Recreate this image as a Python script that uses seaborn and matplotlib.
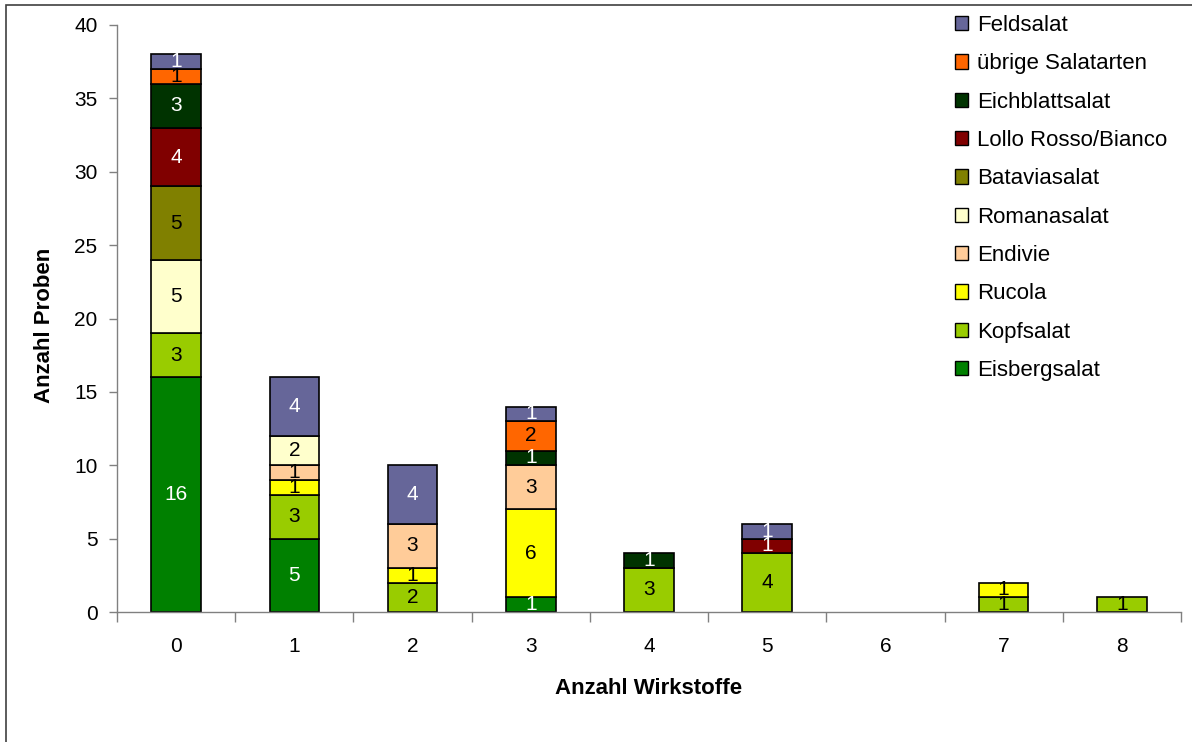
import pandas as pd
import matplotlib.pyplot as plt
from matplotlib.patches import Patch, Rectangle
from matplotlib.ticker import FixedLocator
import seaborn as sns

# Anzahl Wirkstoffe (x categories)
wirkstoffe = [0, 1, 2, 3, 4, 5, 6, 7, 8]

# counts per salad type, one value per x category (bottom to top in the stack)
eisbergsalat = [16, 5, 0, 1, 0, 0, 0, 0, 0]
kopfsalat = [3, 3, 2, 0, 3, 4, 0, 1, 1]
rucola = [0, 1, 1, 6, 0, 0, 0, 1, 0]
endivie = [0, 1, 3, 3, 0, 0, 0, 0, 0]
romanasalat = [5, 2, 0, 0, 0, 0, 0, 0, 0]
bataviasalat = [5, 0, 0, 0, 0, 0, 0, 0, 0]
lollo = [4, 0, 0, 0, 0, 1, 0, 0, 0]
eichblattsalat = [3, 0, 0, 1, 1, 0, 0, 0, 0]
uebrige = [1, 0, 0, 2, 0, 0, 0, 0, 0]
feldsalat = [1, 4, 4, 1, 0, 1, 0, 0, 0]

# legend order (top of stack first)
sorten = ['Feldsalat', 'übrige Salatarten', 'Eichblattsalat', 'Lollo Rosso/Bianco',
          'Bataviasalat', 'Romanasalat', 'Endivie', 'Rucola', 'Kopfsalat', 'Eisbergsalat']
werte = [feldsalat, uebrige, eichblattsalat, lollo, bataviasalat,
         romanasalat, endivie, rucola, kopfsalat, eisbergsalat]
farben = ['#666699', '#FF6600', '#003300', '#800000', '#808000',
          '#FFFFCC', '#FFCC99', '#FFFF00', '#99CC00', '#008000']
dunkel = {'Feldsalat', 'Eichblattsalat', 'Lollo Rosso/Bianco', 'Eisbergsalat'}

rows = []
for sorte, vals in zip(sorten, werte):
    for x, v in zip(wirkstoffe, vals):
        if v > 0:
            rows.append({'Wirkstoffe': x, 'Sorte': sorte, 'Anzahl': v})
df = pd.DataFrame(rows)

sns.set_style('white')
plt.rcParams['font.family'] = ['Liberation Sans', 'DejaVu Sans']
plt.rcParams['text.color'] = 'black'
plt.rcParams['axes.labelcolor'] = 'black'
plt.rcParams['xtick.color'] = 'black'
plt.rcParams['ytick.color'] = 'black'

fig = plt.figure(figsize=(11.92, 7.42), dpi=100)
ax = fig.add_axes([117 / 1192, 130 / 742, 1064 / 1192, 587 / 742])

sns.histplot(data=df, x='Wirkstoffe', weights='Anzahl', hue='Sorte', hue_order=sorten,
             multiple='stack', discrete=True, shrink=0.42, palette=farben,
             edgecolor='black', linewidth=1.2, alpha=1, legend=False, ax=ax)

# hide empty segments
for p in ax.patches:
    if p.get_height() == 0:
        p.set_visible(False)

# segment labels
for i, x in enumerate(wirkstoffe):
    bottom = 0
    for sorte, vals in zip(sorten[::-1], werte[::-1]):
        v = vals[i]
        if v > 0:
            col = 'white' if sorte in dunkel else 'black'
            ax.text(x, bottom + v / 2, str(v), ha='center', va='center',
                    fontsize=15, color=col)
            bottom += v

ax.set_xlim(-0.5, 8.5)
ax.set_ylim(0, 40)
ax.set_yticks(range(0, 41, 5))
ax.set_xticks(wirkstoffe)
ax.xaxis.set_minor_locator(FixedLocator([k - 0.5 for k in range(10)]))
ax.tick_params(axis='x', which='major', length=0, pad=18, labelsize=15)
ax.tick_params(axis='x', which='minor', length=7, width=1, color='#808080', direction='out', bottom=True)
ax.tick_params(axis='y', length=6, width=1, color='#808080', direction='out', left=True,
               pad=8, labelsize=15)

for s in ['top', 'right']:
    ax.spines[s].set_visible(False)
for s in ['left', 'bottom']:
    ax.spines[s].set_color('#808080')
    ax.spines[s].set_linewidth(1)

ax.set_xlabel('Anzahl Wirkstoffe', fontsize=16, fontweight='bold', va='center')
ax.set_ylabel('Anzahl Proben', fontsize=16, fontweight='bold', va='center')
ax.xaxis.set_label_coords(0.5, -0.131)
ax.yaxis.set_label_coords(-0.068, 0.489)

handles = [Patch(facecolor=c, edgecolor='black', linewidth=1) for c in farben]
fig.legend(handles, sorten, loc='upper left', bbox_to_anchor=(955 / 1192, 1 - 15 / 742),
           frameon=False, fontsize=16, handlelength=0.6, handleheight=0.6,
           handletextpad=0.4, labelspacing=0.78, borderaxespad=0, borderpad=0)

# outer frame
fig.patches.append(Rectangle((6 / 1192, -0.1), 1.2, 1.1 - 5 / 742, transform=fig.transFigure,
                             fill=False, edgecolor='#404040', linewidth=1.2))

fig.savefig('out.png', dpi=100)
